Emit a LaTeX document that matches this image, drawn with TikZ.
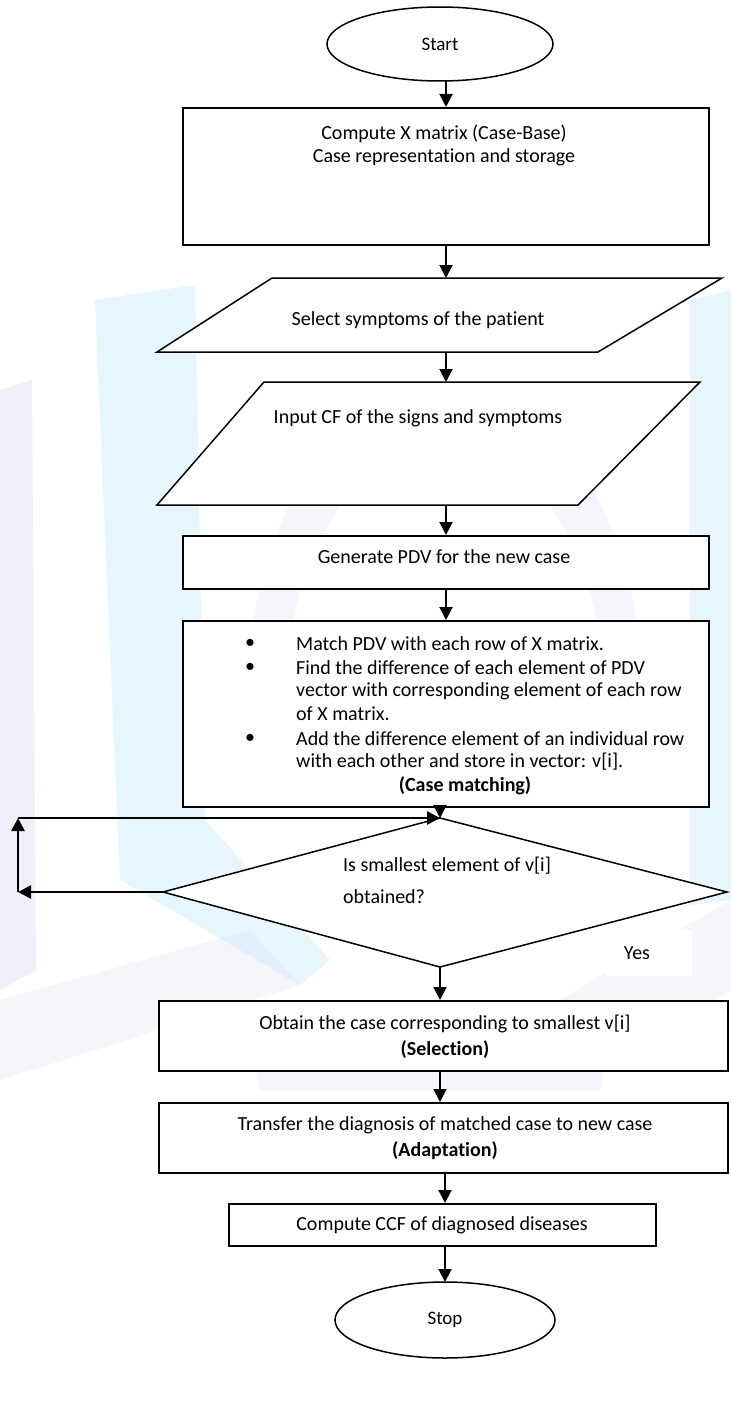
\documentclass[tikz,border=0pt]{standalone}
\usepackage{fontspec}
\setmainfont{Carlito}[Ligatures=CommonOff]
\usetikzlibrary{arrows.meta}
\definecolor{wmblue}{RGB}{200,236,250}
\definecolor{wmlav}{RGB}{222,222,246}
\begin{document}
\begin{tikzpicture}[x=1pt,y=-1pt,
  shapeline/.style={draw=black,line width=1.5pt},
  boxline/.style={draw=black,line width=2pt,fill=white,inner sep=0pt},
  conn/.style={draw=black,line width=2pt,-{Triangle[width=13pt,length=13pt]}},
  loopconn/.style={draw=black,line width=2.6pt,-{Triangle[width=13pt,length=13pt]}},
  txt/.style={font=\fontsize{20}{24}\selectfont,inner sep=0pt},
  btxt/.style={font=\fontsize{20}{24}\selectfont\bfseries,inner sep=0pt},
  stxt/.style={font=\fontsize{19}{23}\selectfont,inner sep=0pt},
  wmark/.style={fill opacity=0.45,draw=none}
]
\fill[white] (0,0) rectangle (731,1402);
\useasboundingbox (0,0) rectangle (731,1402);

% faint background logo
\fill[wmark,wmlav] (0,390) -- (32,380) -- (36,970) -- (0,990) -- cycle;
\fill[wmark,wmblue] (95,300) -- (195,285) -- (205,820) -- (330,960) -- (300,985) -- (120,880) -- cycle;
\fill[wmark,wmlav,fill opacity=0.3] (0,1000) -- (250,930) -- (300,985) -- (0,1080) -- cycle;
\fill[wmark,wmblue] (690,300) -- (731,290) -- (731,900) -- (690,905) -- cycle;
\fill[wmark,wmlav,fill opacity=0.3] (560,1000) -- (731,900) -- (731,990) -- (600,1070) -- cycle;
\fill[wmark,wmlav,fill opacity=0.3] (240,1000) -- (620,1000) -- (600,1090) -- (260,1090) -- cycle;
\fill[wmark,wmlav,fill opacity=0.3] (250,640) .. controls (300,300) and (590,300) .. (640,640) -- (600,640) .. controls (560,380) and (330,380) .. (290,640) -- cycle;

% start
\draw[shapeline] (440,44) ellipse [x radius=113, y radius=37];
\node[stxt] (start) at (440,44) {Start};

% case base
\node[boxline,minimum width=526pt,minimum height=137pt,anchor=north west] (casebase) at (182,107) {};
\node[txt] (cb1) at (444,134) {Compute X matrix (Case-Base)};
\node[txt] (cb2) at (444,157) {Case representation and storage};

% select symptoms
\draw[shapeline,fill=white] (272,278) -- (722,278) -- (598,352) -- (157,352) -- cycle;
\coordinate (selN) at (446,278);
\coordinate (selS) at (446,352);
\node[txt] (sel) at (418,320) {Select symptoms of the patient};

% input CF
\draw[shapeline,fill=white] (264,382) -- (700,382) -- (578,505) -- (157,505) -- cycle;
\coordinate (cfN) at (446,382);
\coordinate (cfS) at (446,505);
\node[txt] (cf) at (418,418) {Input CF of the signs and symptoms};

% generate PDV
\node[boxline,minimum width=526pt,minimum height=53pt,anchor=north west] (pdv) at (182,535) {};
\node[txt] (pdvt) at (444,557) {Generate PDV for the new case};

% case matching
\node[boxline,minimum width=526pt,minimum height=186pt,anchor=north west] (match) at (182,620) {};
\node[txt] (b1) at (250,644) {•};
\node[txt,anchor=west] (m1) at (296,644) {Match PDV with each row of X matrix.};
\node[txt] (b2) at (250,668) {•};
\node[txt,anchor=west] (m2) at (296,668) {Find the difference of each element of PDV};
\node[txt,anchor=west] (m3) at (296,691) {vector with corresponding element of each row};
\node[txt,anchor=west] (m4) at (296,714) {of X matrix.};
\node[txt] (b3) at (250,739) {•};
\node[txt,anchor=west] (m5) at (296,739) {Add the difference element of an individual row};
\node[txt,anchor=west] (m6) at (296,762) {with each other and store in vector: v[i].};
\node[btxt] (m7) at (465,786) {(Case matching)};

% decision
\coordinate (dtop) at (440,818);
\coordinate (dleft) at (163,892);
\coordinate (dright) at (727,892);
\coordinate (dbot) at (440,967);
\draw[shapeline,fill=white] (dtop) -- (dright) -- (dbot) -- (dleft) -- cycle;
\node[txt,anchor=west] (q1) at (343,866) {Is smallest element of v[i]};
\node[txt,anchor=west] (q2) at (343,897) {obtained?};

% loop back
\coordinate (lb) at (18,892);
\coordinate (lt) at (18,818);
\draw[loopconn] (dleft) -- (lb);
\draw[loopconn] (lb) -- (lt);
\draw[loopconn] (lt) -- (dtop);

% yes label
\fill[white] (606,930) rectangle (692,976);
\node[txt] (yes) at (637,953) {Yes};

% selection
\node[boxline,minimum width=569pt,minimum height=70pt,anchor=north west] (selbox) at (158,1000) {};
\node[txt] (s1) at (445,1024) {Obtain the case corresponding to smallest v[i]};
\node[btxt] (s2) at (445,1050) {(Selection)};

% adaptation
\node[boxline,minimum width=569pt,minimum height=70pt,anchor=north west] (adbox) at (158,1102) {};
\node[txt] (a1) at (445,1125) {Transfer the diagnosis of matched case to new case};
\node[btxt] (a2) at (445,1151) {(Adaptation)};

% CCF
\node[boxline,minimum width=427pt,minimum height=42pt,anchor=north west] (ccf) at (228,1203) {};
\node[txt] (ccft) at (442,1225) {Compute CCF of diagnosed diseases};

% stop
\draw[shapeline,fill=white] (445,1320) ellipse [x radius=110, y radius=38];
\node[stxt] (stop) at (445,1320) {Stop};
\coordinate (stopN) at (445,1282);
\coordinate (startS) at (446,81);

% connectors
\draw[conn] (startS) -- (casebase.north -| startS);
\draw[conn] (casebase.south -| selN) -- (selN);
\draw[conn] (selS) -- (cfN);
\draw[conn] (cfS) -- (pdv.north -| cfS);
\draw[conn] (pdv.south -| cfS) -- (match.north -| cfS);
\draw[conn] (match.south -| dtop) -- (dtop);
\draw[conn] (dbot) -- (selbox.north -| dbot);
\draw[conn] (selbox.south -| dbot) -- (adbox.north -| dbot);
\draw[conn] (adbox.south -| stopN) -- (ccf.north -| stopN);
\draw[conn] (ccf.south -| stopN) -- (stopN);
\end{tikzpicture}
\end{document}
